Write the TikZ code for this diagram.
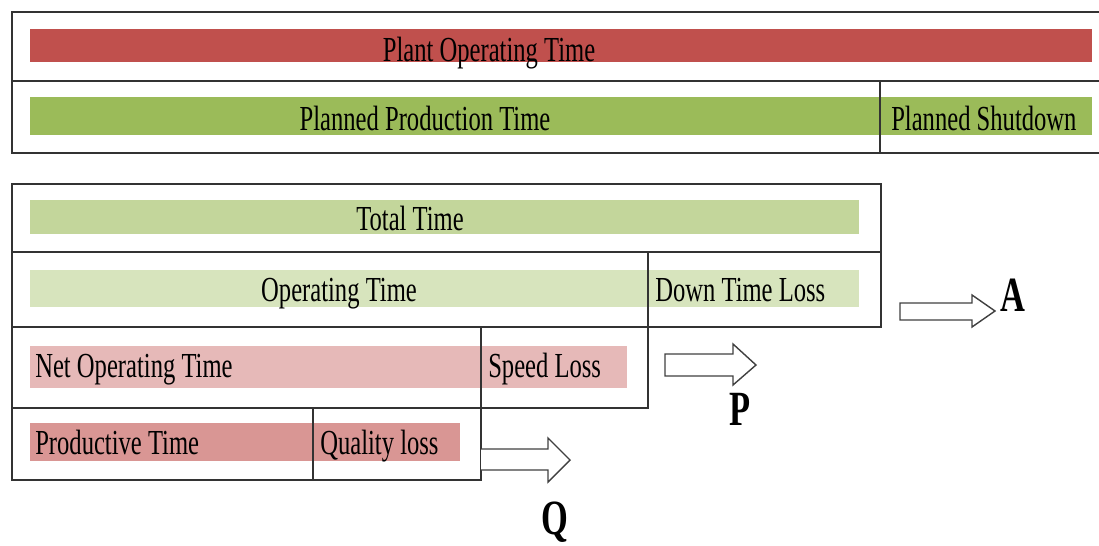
\documentclass[tikz,border=0pt]{standalone}
\usepackage{fontspec}
\setmainfont{Liberation Serif}[FakeStretch=0.7]
\definecolor{plantred}{HTML}{C0504D}
\definecolor{plannedgreen}{HTML}{9BBB59}
\definecolor{totalgreen}{HTML}{C3D69B}
\definecolor{opgreen}{HTML}{D7E4BD}
\definecolor{netred}{HTML}{E6B9B8}
\definecolor{prodred}{HTML}{D99694}
\begin{document}
\begin{tikzpicture}[x=0.025cm, y=-0.025cm, frame/.style={draw=black!80, line width=1.3pt}, label/.style={font=\fontsize{25}{28}\selectfont, inner sep=0pt, anchor=base}, leftlabel/.style={label, anchor=base west}, letter/.style={font=\fontsize{35}{40}\selectfont\bfseries, inner sep=0pt, anchor=base}, blockarrow/.style={draw=black!75, line width=1pt, fill=white, line join=miter}]
	\clip (0,0) rectangle (1099,546);
	\fill[plantred] (30,29) rectangle (1092,62);
	\fill[plannedgreen] (30,97) rectangle (1092,135);
	\fill[totalgreen] (30,200) rectangle (859,234);
	\fill[opgreen] (30,270) rectangle (859,307);
	\fill[netred] (30,346) rectangle (627,388);
	\fill[prodred] (30,423) rectangle (460,461);
	\draw[frame] (1110,12) -| (12,153) -- (1110,153);
	\draw[frame] (12,81) -- (1110,81);
	\draw[frame] (880,81) -- (880,153);
	\draw[frame] (12,184) rectangle (881,327);
	\draw[frame] (12,252) -- (881,252);
	\draw[frame] (648,252) -- (648,408);
	\draw[frame] (12,327) rectangle (648,408);
	\draw[frame] (481,327) -- (481,480);
	\draw[frame] (12,408) rectangle (481,480);
	\draw[frame] (313,408) -- (313,480);
	\node[label] (plant) at (489,61) {Plant Operating Time};
	\node[label] (planned) at (425,130) {Planned Production Time};
	\node[leftlabel] (shutdown) at (891,130) {Planned Shutdown};
	\node[label] (total) at (410,230) {Total Time};
	\node[label] (operating) at (339,301) {Operating Time};
	\node[leftlabel] (downtime) at (655,301) {Down Time Loss};
	\node[leftlabel] (netop) at (35,377) {Net Operating Time};
	\node[leftlabel] (speed) at (488,377) {Speed Loss};
	\node[leftlabel] (productive) at (35,454) {Productive Time};
	\node[leftlabel] (quality) at (320,454) {Quality loss};
	\node[letter] (la) at (1013,311) {A};
	\node[letter] (lp) at (740,425) {P};
	\node[letter] (lq) at (555,534) {Q};
	\draw[blockarrow] (900,303) -- (972,303) -- (972,295) -- (995,311) -- (972,327) -- (972,320) -- (900,320) -- cycle;
	\draw[blockarrow] (665,354) -- (733,354) -- (733,344) -- (756,365) -- (733,385) -- (733,376) -- (665,376) -- cycle;
	\draw[blockarrow] (481,449) -- (548,449) -- (548,438) -- (570,460) -- (548,482) -- (548,470) -- (481,470);
\end{tikzpicture}
\end{document}
